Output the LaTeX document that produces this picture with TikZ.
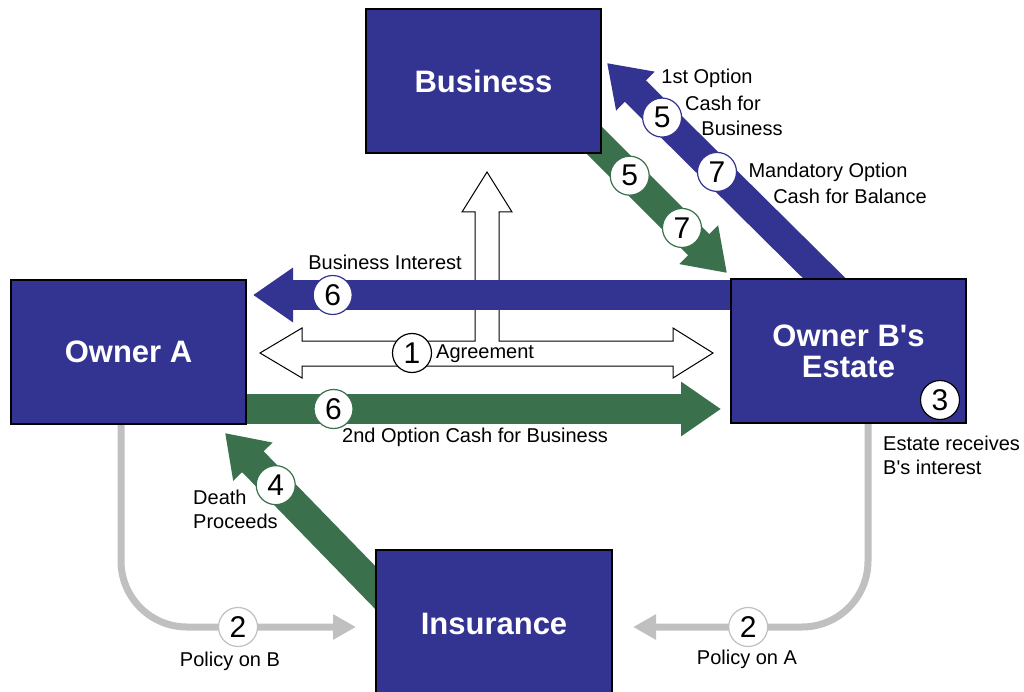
\documentclass[tikz,border=0pt]{standalone}
\usepackage{fontspec}
\setmainfont{Liberation Sans}
\usetikzlibrary{arrows.meta,backgrounds}
\definecolor{boxblue}{RGB}{51,51,145}
\definecolor{cashgreen}{RGB}{58,112,76}
\definecolor{policygray}{RGB}{192,192,192}
\begin{document}
\begin{tikzpicture}[x=1pt,y=-1pt,
	party/.style={draw=black, line width=1.5pt, fill=boxblue, text=white,
		minimum width=235pt, minimum height=144pt, inner sep=0pt, align=center,
		font=\fontsize{31}{31}\selectfont\bfseries},
	num/.style={circle, draw=#1, fill=white, line width=1.2pt, minimum size=39pt,
		inner sep=0pt, text=black, font=\fontsize{30}{30}\selectfont},
	num/.default=black,
	lbl/.style={font=\fontsize{20}{24}\selectfont, inner sep=0pt},
	flow/.style={draw=#1, line width=30pt, -{Triangle[length=40pt,width=52pt]}},
	policy/.style={draw=policygray, line width=7pt, rounded corners=66pt,
		-{Triangle[length=23pt,width=24pt]}}]%
	\useasboundingbox (0,0) rectangle (1024,692);
	\node[party] (business) at (483.5,81) {Business};
	\node[party] (ownerA) at (128.5,352) {Owner A};
	\node[party] (estate) at (848.5,351) {Owner B\textquotesingle s\\Estate};
	\node[party, minimum width=236pt, minimum height=148pt] (insurance) at (494,624) {Insurance};
	\node[num] (n3) at (940,400) {3};
	\coordinate (tipBI) at (253,295);
	\coordinate (tipOpt) at (721,409);
	\coordinate (tipCash) at (727,273);
	\coordinate (tipFirst) at (607,63);
	\coordinate (tipDeath) at (225,433);
	\coordinate (polB) at (356,627);
	\coordinate (polA) at (633,627);
	\begin{scope}[on background layer]
		\draw[fill=white, line width=1pt] (260,353) -- (302,328) -- (302,341) -- (475,341)
			-- (475,212) -- (462,212) -- (487,172) -- (512,212) -- (499,212) -- (499,341)
			-- (673,341) -- (673,328) -- (713,353) -- (673,378) -- (673,366) -- (302,366)
			-- (302,378) -- cycle;
		\node[num] (n1) at (412,353) {1};
		\draw[flow=boxblue] (estate.west |- tipBI) -- node[num=boxblue, pos=0.833] {6} (tipBI);
		\draw[flow=cashgreen] (ownerA.east |- tipOpt) -- node[num=cashgreen, pos=0.183] {6} (tipOpt);
		\draw[flow=cashgreen] ([shift={(-20pt,26pt)}]business.south east) --
			node[num=cashgreen, pos=0.33] {5} node[num=cashgreen, pos=0.69] {7} (tipCash);
		\draw[flow=boxblue] ([shift={(-6pt,-18pt)}]estate.north) --
			node[num=boxblue, pos=0.533] {7} node[num=boxblue, pos=0.766] {5} (tipFirst);
		\draw[flow=cashgreen] ([shift={(24pt,-63pt)}]insurance.north west) --
			node[num=cashgreen, pos=0.709] {4} (tipDeath);
		\draw[policy] ([xshift=-7.5pt]ownerA.south) |- node[num=policygray, pos=0.749] {2} (polB);
		\draw[policy] ([xshift=19.5pt]estate.south) |- node[num=policygray, pos=0.755] {2} (polA);
	\end{scope}
	\node[lbl] (lbi) at (385,262) {Business Interest};
	\node[lbl, anchor=west] (lagr) at (436,354) {Agreement};
	\node[lbl] (lopt) at (475,437) {2nd Option Cash for Business};
	\node[lbl] (lfa) at (707,78) {1st Option};
	\node[lbl] (lfb) at (723,103) {Cash for};
	\node[lbl] (lfc) at (742,128) {Business};
	\node[lbl] (lma) at (828,172) {Mandatory Option};
	\node[lbl] (lmb) at (850,196) {Cash for Balance};
	\node[lbl, align=left, anchor=west] (lrec) at (883,455) {Estate receives\\B\textquotesingle s interest};
	\node[lbl, align=left, anchor=west] (ldp) at (193,509) {Death\\Proceeds};
	\node[lbl] (lpb) at (230,661) {Policy on B};
	\node[lbl] (lpa) at (747,659) {Policy on A};
\end{tikzpicture}
\end{document}
